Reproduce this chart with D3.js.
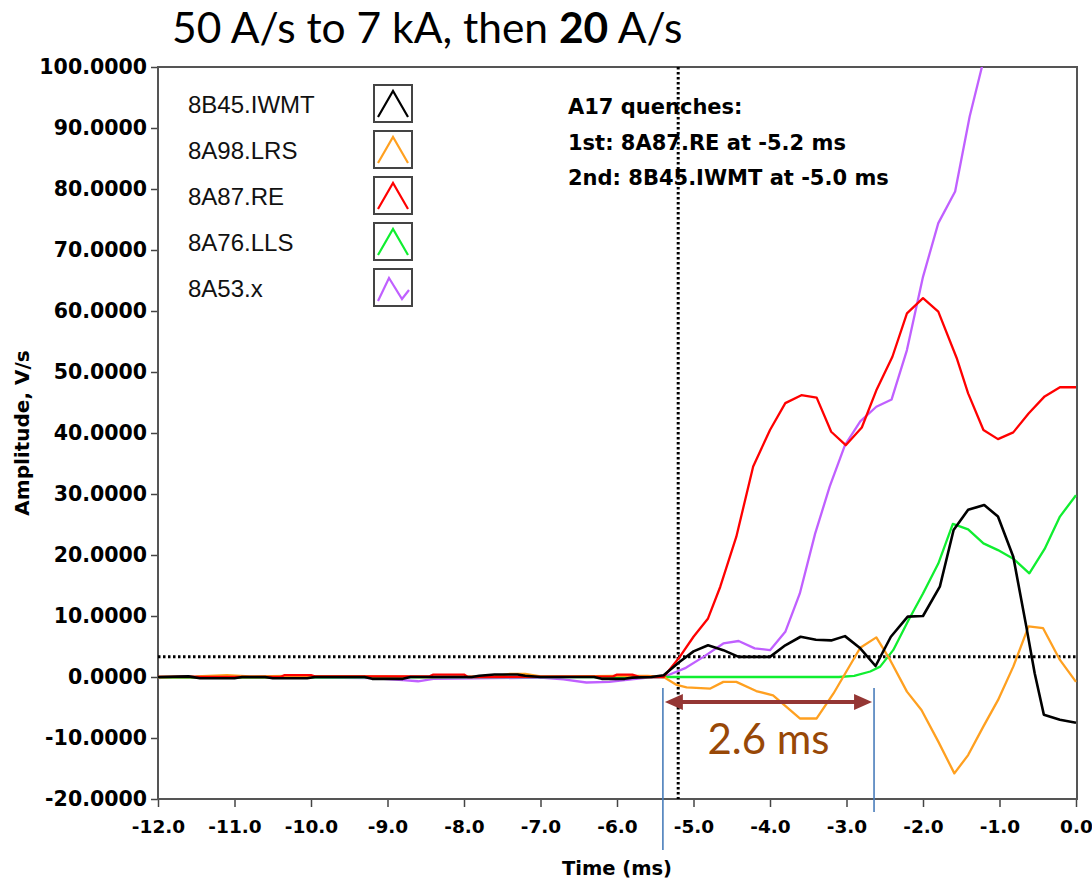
<!DOCTYPE html>
<html><head><meta charset="utf-8">
<script src="https://cdn.jsdelivr.net/npm/d3@7/dist/d3.min.js"></script>
<style>
body{margin:0;background:#fff;}
svg{display:block;}
</style></head>
<body>
<svg id="c" width="1092" height="880"></svg>
<script>
// ---------- data ----------
const seriesNames = ["8B45.IWMT","8A98.LRS","8A87.RE","8A76.LLS","8A53.x"];
const seriesColors = ["#000000","#ffa020","#ff0000","#10ee30","#c060ff"];
const xTicks = [-12,-11,-10,-9,-8,-7,-6,-5,-4,-3,-2,-1,0];
const yTicks = [-20,-10,0,10,20,30,40,50,60,70,80,90,100];

const black = [[-12,0],[-11.6,0.1],[-11.45,-0.2],[-11.0,-0.2],[-10.9,0],[-10.6,0],[-10.5,-0.2],[-10.05,-0.2],[-9.95,0],[-9.3,0],[-9.2,-0.3],[-8.8,-0.3],[-8.7,0],[-7.9,0],[-7.8,0.2],[-7.6,0.4],[-7.3,0.4],[-7.2,0.2],[-7.0,0],[-6.3,0],[-6.2,-0.3],[-5.9,-0.3],[-5.8,-0.1],[-5.55,0],[-5.39,0.3],[-5.18,2.5],[-5.0,4.2],[-4.81,5.2],[-4.61,4.4],[-4.41,3.3],[-4.0,3.3],[-3.8,5.2],[-3.6,6.6],[-3.4,6.1],[-3.2,6.0],[-3.02,6.7],[-2.82,4.7],[-2.62,1.8],[-2.42,6.6],[-2.2,9.9],[-2.0,10],[-1.78,14.8],[-1.6,24.1],[-1.41,27.4],[-1.2,28.2],[-1.02,26.3],[-0.82,19.7],[-0.65,8.3],[-0.54,0.6],[-0.42,-6.2],[-0.21,-7.0],[0,-7.5]];
const orange = [[-12,0],[-11.5,0.1],[-11.1,0.3],[-10.8,0.1],[-10.3,0.2],[-9.8,0.1],[-9.0,0.1],[-8.5,0],[-7.6,0.1],[-7.4,0.5],[-7.2,0.5],[-7.0,0.1],[-6.6,0.1],[-6.0,0.2],[-5.6,0.2],[-5.39,0],[-5.22,-1.3],[-5.09,-1.7],[-4.78,-1.9],[-4.61,-0.8],[-4.44,-0.8],[-4.18,-2.3],[-3.96,-3.0],[-3.61,-6.8],[-3.39,-6.8],[-3.17,-2.7],[-2.82,4.8],[-2.61,6.5],[-2.43,2.8],[-2.21,-2.4],[-2.02,-5.4],[-1.80,-10.6],[-1.59,-15.8],[-1.41,-12.8],[-1.21,-8.1],[-1.02,-3.8],[-0.82,1.7],[-0.62,8.3],[-0.43,8.0],[-0.21,2.8],[0,-0.8]];
const red = [[-12,0],[-10.4,0],[-10.35,0.3],[-10.0,0.3],[-9.95,0.1],[-8.45,0.1],[-8.4,0.4],[-8.0,0.4],[-7.95,0],[-6.05,0.1],[-6.0,0.4],[-5.8,0.4],[-5.7,0],[-5.39,0],[-5.18,3.3],[-5.0,6.6],[-4.81,9.6],[-4.65,14.8],[-4.44,23],[-4.22,34.5],[-4.0,40.5],[-3.8,44.9],[-3.59,46.2],[-3.39,45.8],[-3.2,40.2],[-3.01,38.0],[-2.8,40.9],[-2.61,47],[-2.4,52.5],[-2.21,59.6],[-2.0,62.1],[-1.8,59.9],[-1.56,52.3],[-1.41,46.5],[-1.21,40.5],[-1.02,39],[-0.82,40.1],[-0.62,43.2],[-0.41,46],[-0.21,47.5],[0,47.5]];
const green = [[-12,-0.1],[-5.4,0],[-3.1,0],[-2.9,0.2],[-2.69,0.9],[-2.56,1.7],[-2.39,4.4],[-2.19,9.3],[-2.0,13.7],[-1.8,18.6],[-1.61,25.1],[-1.41,24.2],[-1.21,21.9],[-1.02,20.8],[-0.82,19.4],[-0.61,17.0],[-0.41,21.0],[-0.21,26.3],[0,29.8]];
const purple = [[-12,-0.2],[-11.7,0.1],[-11.4,0],[-10.0,-0.1],[-9.2,-0.2],[-8.8,-0.5],[-8.6,-0.7],[-8.4,-0.3],[-7.0,-0.1],[-6.7,-0.4],[-6.4,-0.9],[-6.1,-0.8],[-5.9,-0.5],[-5.6,-0.1],[-5.39,0],[-5.1,1.5],[-4.87,3.3],[-4.61,5.5],[-4.41,5.9],[-4.2,4.7],[-4.0,4.4],[-3.8,7.4],[-3.61,13.7],[-3.41,23.5],[-3.22,31.2],[-3.02,38],[-2.82,41.9],[-2.61,44.3],[-2.41,45.5],[-2.21,53.6],[-2.0,65.6],[-1.8,74.4],[-1.58,79.6],[-1.39,91.9],[-1.23,100],[-1.0,112]];
const seriesData = [black, orange, red, green, purple];
const drawOrder = [4,3,1,2,0];

const thresholdLevel = 3.3;      // horizontal dotted line (V/s)
const firstQuenchTime = -5.2;    // vertical dotted line (ms)
const intervalStart = -5.4, intervalEnd = -2.64; // blue markers (ms)
const intervalLabel = "2.6 ms";
const titleParts = [["50 A/s to 7 kA, then ","normal"],["20","bold"],[" A/s","normal"]];
const noteLines = ["A17 quenches:","1st: 8A87.RE at -5.2 ms","2nd: 8B45.IWMT at -5.0 ms"];

// ---------- layout ----------
const svg = d3.select("#c");
const L = 158, R = 1076, T = 67, B = 799;
const x = d3.scaleLinear().domain([-12,0]).range([L,R]);
const y = d3.scaleLinear().domain([-20,100]).range([B,T]);

// title
const title = svg.append("text").attr("x",172).attr("y",43)
  .style("font-family","Lato, 'Open Sans', sans-serif").style("font-size","42.5px").attr("fill","#000");
titleParts.forEach(p=>title.append("tspan").text(p[0]).style("font-weight",p[1]));

svg.append("defs").append("clipPath").attr("id","plotclip")
  .append("rect").attr("x",L).attr("y",T).attr("width",R-L+1).attr("height",B-T);

// axes
const tickFont = "'DejaVu Sans', sans-serif";
const yAxis = svg.append("g").attr("transform",`translate(${L},0)`)
  .call(d3.axisLeft(y).tickValues(yTicks).tickFormat(d=>d.toFixed(4)).tickSize(7).tickPadding(4));
yAxis.selectAll("text").style("font-family",tickFont).style("font-weight","bold").style("font-size","20.5px").attr("fill","#000");
yAxis.selectAll("line").attr("stroke","#444").attr("stroke-width",1.5);
yAxis.select(".domain").remove();

const xAxis = svg.append("g").attr("transform",`translate(0,${B})`)
  .call(d3.axisBottom(x).tickValues(xTicks).tickFormat(d=>d.toFixed(1)).tickSize(8).tickPadding(13));
xAxis.selectAll("text").style("font-family",tickFont).style("font-weight","bold").style("font-size","18.5px").attr("fill","#000");
xAxis.selectAll("line").attr("stroke","#444").attr("stroke-width",1.5);
xAxis.select(".domain").remove();

// frame
svg.append("rect").attr("x",L).attr("y",T).attr("width",R-L+1).attr("height",B-T)
  .attr("fill","none").attr("stroke","#555").attr("stroke-width",2);

// axis titles
svg.append("text").attr("transform",`translate(29,${(T+B)/2}) rotate(-90)`).attr("text-anchor","middle")
  .style("font-family",tickFont).style("font-weight","bold").style("font-size","20px").text("Amplitude, V/s");
svg.append("text").attr("x",(L+R)/2).attr("y",875).attr("text-anchor","middle")
  .style("font-family",tickFont).style("font-weight","bold").style("font-size","19.5px").text("Time (ms)");

// dotted reference lines
const plot = svg.append("g").attr("clip-path","url(#plotclip)");
plot.append("line").attr("x1",L).attr("x2",R).attr("y1",y(thresholdLevel)).attr("y2",y(thresholdLevel))
  .attr("stroke","#000").attr("stroke-width",3).attr("stroke-dasharray","2.5,2.5");
plot.append("line").attr("x1",x(firstQuenchTime)).attr("x2",x(firstQuenchTime)).attr("y1",T).attr("y2",B)
  .attr("stroke","#000").attr("stroke-width",3).attr("stroke-dasharray","2.5,2.5");

// series
const line = d3.line().x(d=>x(d[0])).y(d=>y(d[1]));
drawOrder.forEach(i=>{
  plot.append("path").datum(seriesData[i]).attr("d",line)
    .attr("fill","none").attr("stroke",seriesColors[i]).attr("stroke-width",i===0?2.6:2.3).attr("stroke-linejoin","round");
});

// legend
const legend = svg.append("g");
seriesNames.forEach((n,i)=>{
  const by = 85 + i*46;
  legend.append("text").attr("x",188).attr("y",by+28).text(n)
    .style("font-family","'Liberation Sans', Arial, sans-serif").style("font-size","24px").attr("fill","#111");
  legend.append("rect").attr("x",374).attr("y",by).attr("width",38).attr("height",37)
    .attr("fill","#fff").attr("stroke","#444").attr("stroke-width",2);
  const pts = i===4 ? [[378,by+32],[389,by+9],[402,by+30],[409,by+21]] : [[378,by+32],[393,by+6],[408,by+32]];
  legend.append("polyline").attr("points",pts.map(p=>p.join(",")).join(" "))
    .attr("fill","none").attr("stroke",seriesColors[i]).attr("stroke-width",2.2);
});

// note text
noteLines.forEach((t,i)=>{
  svg.append("text").attr("x",568).attr("y",114+i*35.5).text(t)
    .style("font-family",tickFont).style("font-weight","bold").style("font-size","21px").attr("fill","#000");
});

// interval annotation
const blue = "#4a7ebb";
svg.append("line").attr("x1",x(intervalStart)).attr("x2",x(intervalStart)).attr("y1",688).attr("y2",850)
  .attr("stroke",blue).attr("stroke-width",1.6);
svg.append("line").attr("x1",x(intervalEnd)).attr("x2",x(intervalEnd)).attr("y1",688).attr("y2",812)
  .attr("stroke",blue).attr("stroke-width",1.6);
const ay = 702, ax1 = x(intervalStart)+2, ax2 = x(intervalEnd)-2, ah = 18, aw = 8;
const arrowCol = "#943634";
svg.append("line").attr("x1",ax1+ah-2).attr("x2",ax2-ah+2).attr("y1",ay).attr("y2",ay)
  .attr("stroke",arrowCol).attr("stroke-width",4);
svg.append("path").attr("d",`M${ax1},${ay} L${ax1+ah},${ay-aw} L${ax1+ah},${ay+aw} Z`).attr("fill",arrowCol);
svg.append("path").attr("d",`M${ax2},${ay} L${ax2-ah},${ay-aw} L${ax2-ah},${ay+aw} Z`).attr("fill",arrowCol);
svg.append("text").attr("x",(ax1+ax2)/2).attr("y",754).attr("text-anchor","middle").text(intervalLabel)
  .style("font-family","Lato, 'Open Sans', sans-serif").style("font-size","42px").attr("fill","#984807");
</script>
</body></html>
